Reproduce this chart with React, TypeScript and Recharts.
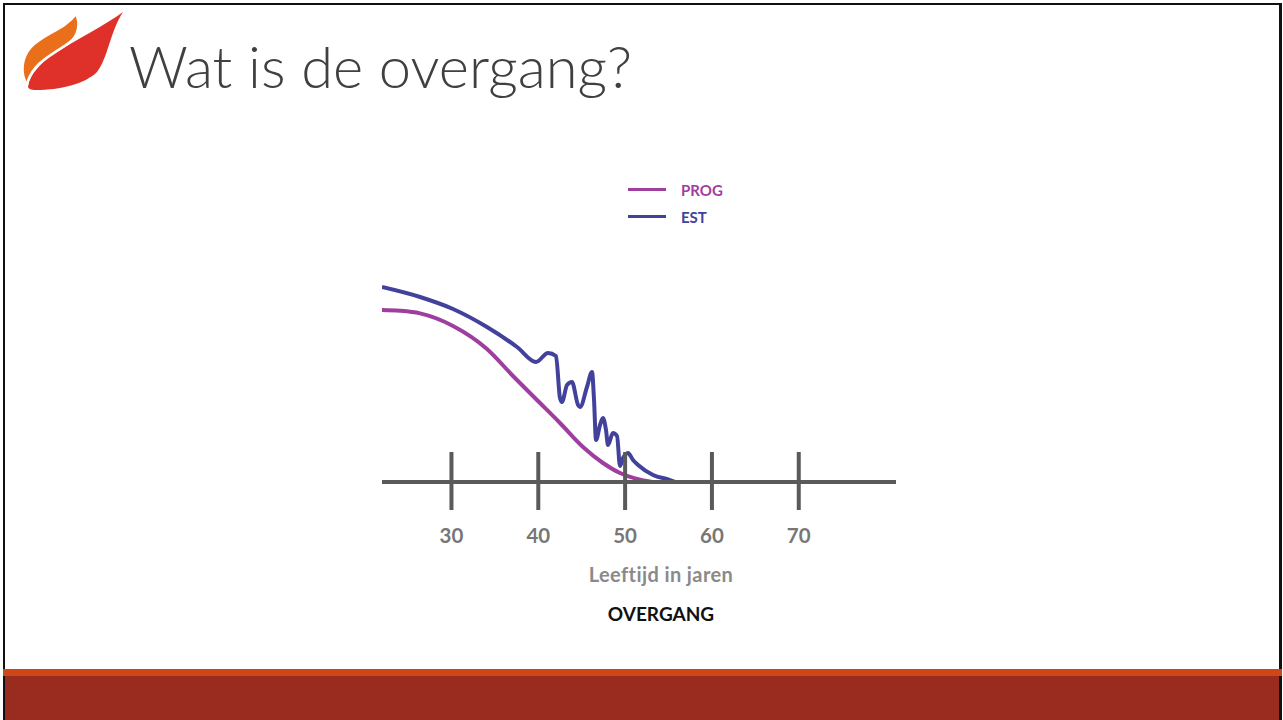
import React from 'react';
import { LineChart, Line, XAxis, YAxis, Legend } from 'recharts';

// age axis labels
const ageTicks = [30, 40, 50, 60, 70];
const seriesOrder = ['PROG', 'EST'];

// progesterone curve (age in years, relative level)
const progAges = [22.0, 24.07, 26.38, 30.18, 34.09, 37.09, 39.85, 42.5, 45.15, 47.45, 49.41, 51.14, 53.1];
const progLevels = [86, 85.6, 84.3, 78, 66.5, 53, 41, 29.5, 17.5, 9.5, 4.5, 1.8, 0];

// oestrogen curve, wobbly during the transition
const estAges = [
  22.0, 26.38, 30.18, 34.09, 37.55, 39.74, 41.12, 42.04, 42.5, 42.73, 43.31, 43.88, 44.58, 44.81,
  45.61, 46.19, 46.42, 46.65, 47.11, 47.45, 47.8, 48.03, 48.6, 49.07, 49.41, 49.76, 50.33, 50.91,
  51.49, 53.22, 55.17, 55.75,
];
const estLevels = [
  97.5, 92.5, 86.5, 77.5, 67.5, 60, 64.5, 63, 42, 40, 48.5, 50, 38.5, 37.5,
  47.5, 55, 41, 21, 28.5, 32, 26, 18.5, 24.5, 23, 8, 12, 14.5, 11,
  8.5, 3.5, 1, 0,
];

const progData = progAges.map((age, i) => ({ age, level: progLevels[i] }));
const estData = estAges.map((age, i) => ({ age, level: estLevels[i] }));

const PROG_COLOR = '#9e3f9f';
const EST_COLOR = '#42429c';
const AXIS_COLOR = '#5a5a5a';

function AgeTick(props: any) {
  const { x, y, payload } = props;
  return (
    <g>
      <line x1={x} x2={x} y1={y - 30} y2={y + 28} stroke={AXIS_COLOR} strokeWidth={4} />
      <text
        x={x}
        y={y + 61}
        textAnchor="middle"
        fill="#777"
        fontFamily="Lato"
        fontWeight={700}
        fontSize={20.5}
      >
        {payload.value}
      </text>
    </g>
  );
}

function SeriesLegend(props: any) {
  const items = [...(props.payload || [])].sort(
    (a: any, b: any) => seriesOrder.indexOf(a.value) - seriesOrder.indexOf(b.value)
  );
  return (
    <div>
      {items.map((entry: any) => (
        <div key={entry.value} style={{ display: 'flex', alignItems: 'center', height: 27 }}>
          <span style={{ display: 'inline-block', width: 38, height: 3, background: entry.color, marginRight: 15 }} />
          <span style={{ color: entry.color, fontFamily: 'Lato', fontWeight: 700, fontSize: 15 }}>
            {entry.value}
          </span>
        </div>
      ))}
    </div>
  );
}

export default function App() {
  return (
    <div
      style={{
        position: 'fixed',
        left: 0,
        top: 0,
        width: 1283,
        height: 720,
        background: '#fff',
        overflow: 'hidden',
      }}
    >
      {/* slide frame */}
      <div
        style={{
          position: 'absolute',
          left: 3,
          top: 3,
          width: 1274,
          height: 720,
          borderLeft: '2px solid #111',
          borderTop: '2px solid #111',
          borderRight: '3px solid #111',
        }}
      />
      <div style={{ position: 'absolute', left: 3, top: 669, width: 1279, height: 7, background: '#cf4619' }} />
      <div style={{ position: 'absolute', left: 5, top: 676, width: 1274, height: 44, background: '#9a2c1f' }} />

      <svg width={1283} height={120} style={{ position: 'absolute', left: 0, top: 0 }}>
        <path
          d="M123,12 C105,25 80,38 55,53 C40,63 30,75 28,86 C28,89 31,90 36,90 C60,90 85,84 97,72 C108,58 110,32 123,12 Z"
          fill="#df312a"
        />
        <path
          d="M76,14 C81,24 78,36 70,42 C60,50 45,57 36,67 C31,73 28,79 27,85 C20,74 21,58 31,47 C43,34 65,29 76,14 Z"
          fill="#e96f1a"
          stroke="#fff"
          strokeWidth={2.5}
        />
        <text
          x={129}
          y={88}
          fontFamily="Lato"
          fontWeight={300}
          fontSize={58}
          fill="#404040"
          textLength={503}
          lengthAdjust="spacingAndGlyphs"
        >
          Wat is de overgang?
        </text>
      </svg>

      <div style={{ position: 'absolute', left: 0, top: 0 }}>
        <LineChart width={1283} height={720} margin={{ top: 282, right: 387, bottom: 158, left: 382 }}>
          <XAxis
            type="number"
            dataKey="age"
            domain={[22, 81.2]}
            allowDataOverflow
            ticks={ageTicks}
            interval={0}
            height={80}
            axisLine={{ stroke: AXIS_COLOR, strokeWidth: 4 }}
            tickLine={false}
            tickSize={0}
            tickMargin={0}
            tick={<AgeTick />}
          />
          <YAxis hide type="number" domain={[0, 100]} />
          <Legend
            layout="vertical"
            align="center"
            verticalAlign="middle"
            wrapperStyle={{ left: 628, top: 176, width: 140 }}
            content={<SeriesLegend />}
          />
          <Line
            data={progData}
            dataKey="level"
            name="PROG"
            type="monotone"
            stroke={PROG_COLOR}
            strokeWidth={4}
            dot={false}
            activeDot={false}
            isAnimationActive={false}
          />
          <Line
            data={estData}
            dataKey="level"
            name="EST"
            type="monotone"
            stroke={EST_COLOR}
            strokeWidth={4}
            dot={false}
            activeDot={false}
            isAnimationActive={false}
          />
        </LineChart>
      </div>

      <div
        style={{
          position: 'absolute',
          left: 561,
          width: 200,
          top: 562,
          textAlign: 'center',
          fontFamily: 'Lato',
          fontWeight: 700,
          fontSize: 20,
          letterSpacing: 0.4,
          color: '#8a8a8a',
          lineHeight: '24px',
        }}
      >
        Leeftijd in jaren
      </div>
      <div
        style={{
          position: 'absolute',
          left: 561,
          width: 200,
          top: 603,
          textAlign: 'center',
          fontFamily: 'Lato',
          fontWeight: 700,
          fontSize: 19,
          color: '#111',
          lineHeight: '22px',
        }}
      >
        OVERGANG
      </div>
    </div>
  );
}
